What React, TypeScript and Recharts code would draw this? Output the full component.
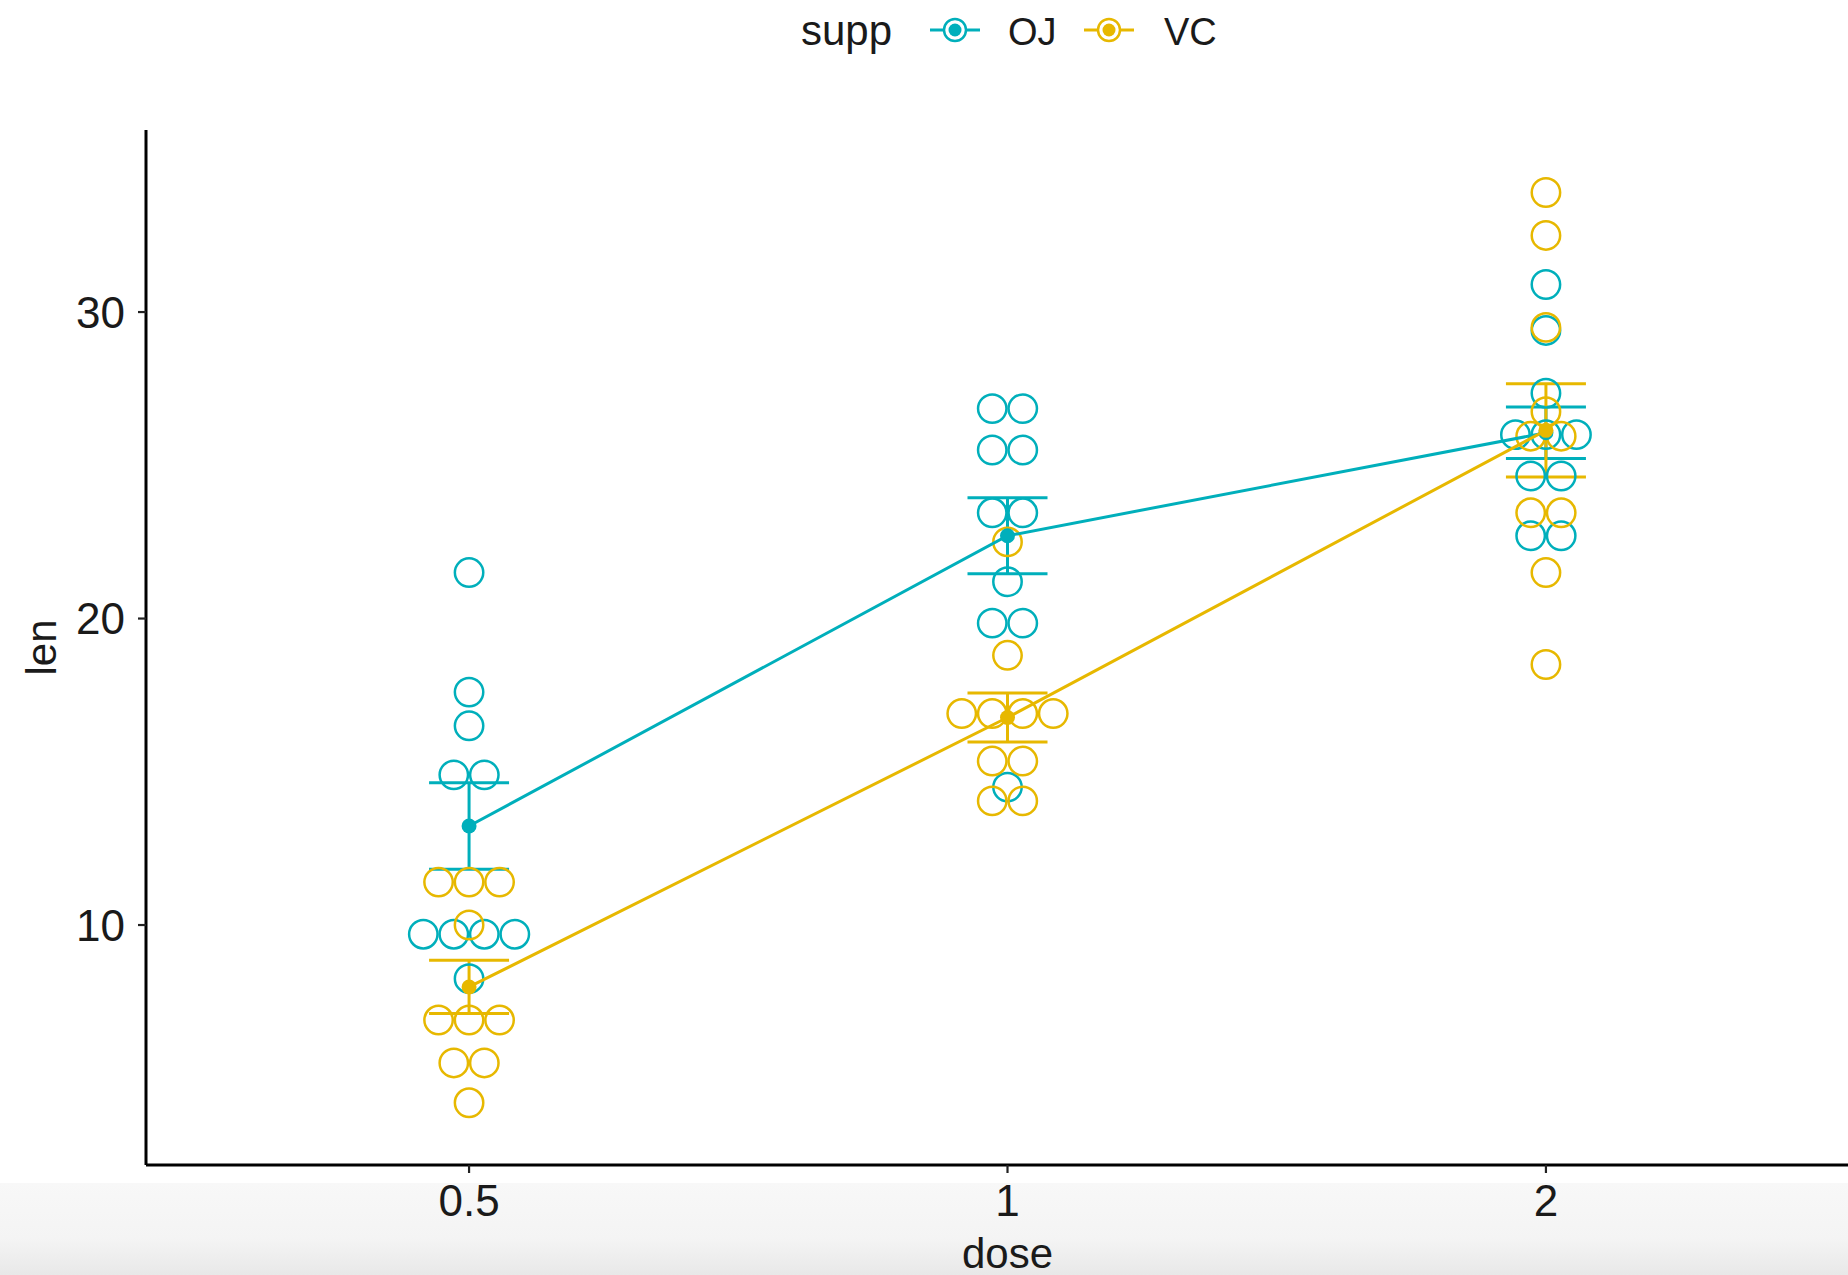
import React from "react"
import { ComposedChart, Scatter, XAxis, YAxis, ErrorBar, Label } from "recharts"

const DOSES = ["0.5", "1", "2"]
const OJ_COLOR = "#00AFBB"
const VC_COLOR = "#E7B800"
const FONT = "'Liberation Sans', Arial, Helvetica, sans-serif"

// dot positions (bin centres) per dose
const OJ_DOTS = [
  [21.5, 17.6, 16.5, 14.9, 14.9, 9.7, 9.7, 9.7, 9.7, 8.25],
  [26.85, 26.85, 25.5, 25.5, 23.45, 23.45, 21.2, 19.85, 19.85, 14.5],
  [30.9, 29.4, 27.35, 26.0, 26.0, 26.0, 24.65, 24.65, 22.7, 22.7],
]
const VC_DOTS = [
  [11.4, 11.4, 11.4, 10.0, 6.9, 6.9, 6.9, 5.5, 5.5, 4.2],
  [22.5, 18.8, 16.9, 16.9, 16.9, 16.9, 15.35, 15.35, 14.05, 14.05],
  [33.9, 32.5, 29.5, 26.75, 25.95, 25.95, 23.45, 23.45, 21.5, 18.5],
]

// mean +/- se
const OJ_MEAN = [13.23, 22.7, 26.06]
const OJ_SE = [1.41, 1.24, 0.84]
const VC_MEAN = [7.98, 16.77, 26.14]
const VC_SE = [0.87, 0.8, 1.52]

const Y_TICKS = [10, 20, 30]

const DOT_STEP = 30.5

// group equal values into a centred stack
function stackDots(groups: number[][]) {
  const out: any[] = []
  groups.forEach((vals, i) => {
    const counts: Record<string, number> = {}
    vals.forEach((v) => (counts[v] = (counts[v] || 0) + 1))
    const seen: Record<string, number> = {}
    vals.forEach((v) => {
      const k = seen[v] || 0
      seen[v] = k + 1
      out.push({ x: i + 1, y: v, k, n: counts[v] })
    })
  })
  return out
}

const ojDots = stackDots(OJ_DOTS)
const vcDots = stackDots(VC_DOTS)
const ojMeans = OJ_MEAN.map((m, i) => ({ x: i + 1, y: m, se: OJ_SE[i] }))
const vcMeans = VC_MEAN.map((m, i) => ({ x: i + 1, y: m, se: VC_SE[i] }))

const hollow = (color: string) => (p: any) => (
  <circle
    cx={p.cx + (p.payload.k - (p.payload.n - 1) / 2) * DOT_STEP}
    cy={p.cy}
    r={14.2}
    fill="none"
    stroke={color}
    strokeWidth={2.5}
  />
)

const filled = (color: string) => (p: any) => (
  <circle cx={p.cx} cy={p.cy} r={7.5} fill={color} />
)

function LegendKey({ x, color }: { x: number; color: string }) {
  return (
    <g>
      <line x1={x - 25} x2={x + 25} y1={30} y2={30} stroke={color} strokeWidth={3} />
      <circle cx={x} cy={30} r={11} fill="white" stroke={color} strokeWidth={2.5} />
      <circle cx={x} cy={30} r={6.5} fill={color} />
    </g>
  )
}

export default function App() {
  const tick = { fontSize: 44, fill: "#1a1a1a", fontFamily: FONT }
  return (
    <div
      style={{
        position: "fixed",
        left: 0,
        top: 0,
        width: 1848,
        height: 1275,
        overflow: "hidden",
        background: "#fff",
      }}
    >
      <div
        style={{
          position: "absolute",
          left: 0,
          top: 1183,
          width: 1848,
          height: 92,
          background: "linear-gradient(#f8f8f8, #f4f4f4 60%, #e8e8e8)",
        }}
      />
      <svg width={1848} height={80} style={{ position: "absolute", left: 0, top: 0 }}>
        <text x={801} y={45} fontSize={42} fontFamily={FONT} fill="#1a1a1a">
          supp
        </text>
        <LegendKey x={955} color={OJ_COLOR} />
        <text x={1008} y={45} fontSize={38} fontFamily={FONT} fill="#1a1a1a">
          OJ
        </text>
        <LegendKey x={1109} color={VC_COLOR} />
        <text x={1164} y={45} fontSize={38} fontFamily={FONT} fill="#1a1a1a">
          VC
        </text>
      </svg>
      <div style={{ position: "absolute", left: 0, top: 0 }}>
        <ComposedChart
          width={1880}
          height={1275}
          margin={{ top: 130, right: 11, bottom: 50, left: 86 }}
        >
          <XAxis
            type="number"
            dataKey="x"
            domain={[0.4, 3.6]}
            ticks={[1, 2, 3]}
            tickFormatter={(v) => DOSES[v - 1]}
            allowDataOverflow
            height={60}
            tickSize={8}
            tickMargin={12}
            tick={tick}
            axisLine={{ stroke: "#000", strokeWidth: 3 }}
            tickLine={{ stroke: "#222", strokeWidth: 2.2 }}
          >
            <Label
              content={(props: any) => {
                const vb = props.viewBox
                return (
                  <text
                    x={vb.x + vb.width / 2}
                    y={vb.y + 88}
                    textAnchor="middle"
                    dominantBaseline="central"
                    fontSize={42}
                    fontFamily={FONT}
                    fill="#1a1a1a"
                  >
                    dose
                  </text>
                )
              }}
            />
          </XAxis>
          <YAxis
            type="number"
            dataKey="y"
            domain={[2.17, 35.94]}
            ticks={Y_TICKS}
            allowDataOverflow
            width={60}
            tickSize={8}
            tickMargin={13}
            tick={tick}
            axisLine={{ stroke: "#000", strokeWidth: 3 }}
            tickLine={{ stroke: "#222", strokeWidth: 2.2 }}
          >
            <Label
              content={(props: any) => {
                const vb = props.viewBox
                const cx = vb.x - 45
                const cy = vb.y + vb.height / 2
                return (
                  <text
                    x={cx}
                    y={cy}
                    transform={`rotate(-90 ${cx} ${cy})`}
                    textAnchor="middle"
                    dominantBaseline="central"
                    fontSize={42}
                    fontFamily={FONT}
                    fill="#1a1a1a"
                  >
                    len
                  </text>
                )
              }}
            />
          </YAxis>
          <Scatter data={ojDots} dataKey="y" shape={hollow(OJ_COLOR)} isAnimationActive={false} />
          <Scatter data={vcDots} dataKey="y" shape={hollow(VC_COLOR)} isAnimationActive={false} />
          <Scatter
            data={ojMeans}
            dataKey="y"
            fill={OJ_COLOR}
            shape={filled(OJ_COLOR)}
            line={{ stroke: OJ_COLOR, strokeWidth: 3 }}
            isAnimationActive={false}
          >
            <ErrorBar
              dataKey="se"
              direction="y"
              width={40}
              stroke={OJ_COLOR}
              strokeWidth={3}
              isAnimationActive={false}
            />
          </Scatter>
          <Scatter
            data={vcMeans}
            dataKey="y"
            fill={VC_COLOR}
            shape={filled(VC_COLOR)}
            line={{ stroke: VC_COLOR, strokeWidth: 3 }}
            isAnimationActive={false}
          >
            <ErrorBar
              dataKey="se"
              direction="y"
              width={40}
              stroke={VC_COLOR}
              strokeWidth={3}
              isAnimationActive={false}
            />
          </Scatter>
        </ComposedChart>
      </div>
    </div>
  )
}
